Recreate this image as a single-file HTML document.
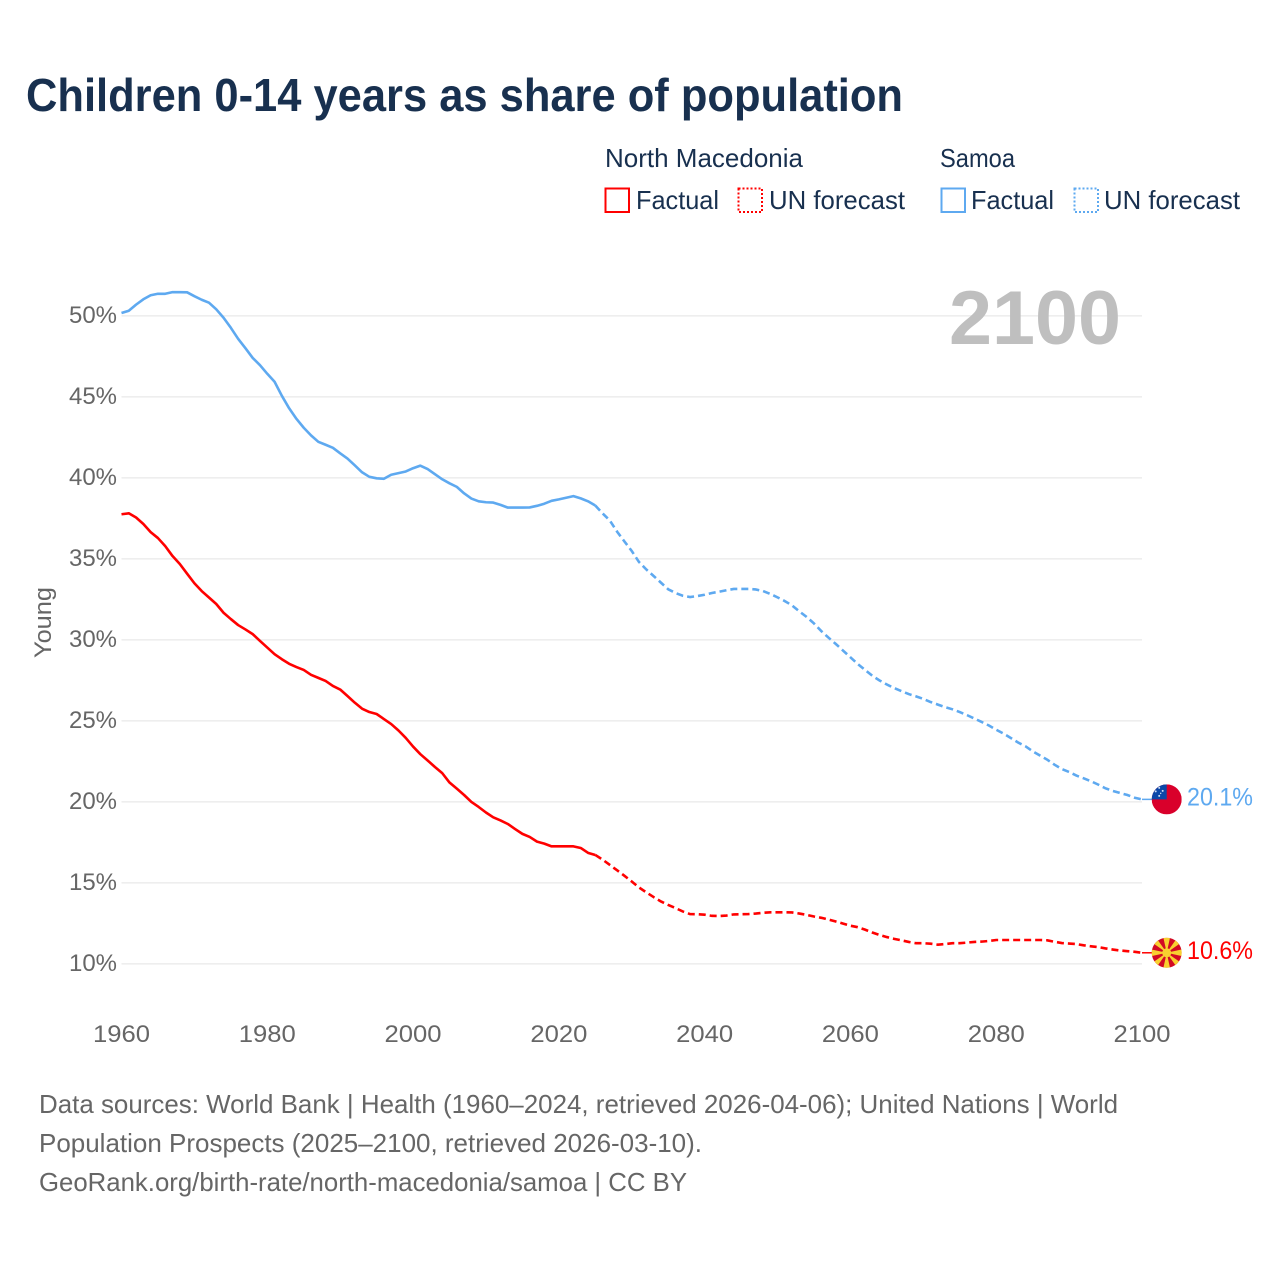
<!DOCTYPE html>
<html lang="en">
<head>
<meta charset="utf-8">
<title>Children 0-14 years as share of population</title>
<style>
  html, body { margin: 0; padding: 0; background: #fff; }
  svg { display: block; font-family: "Liberation Sans", sans-serif; }
</style>
</head>
<body>
<svg id="chart" xmlns="http://www.w3.org/2000/svg" width="1280" height="1280" viewBox="0 0 1280 1280">
  <defs>
    <clipPath id="flag-clip"><circle cx="0" cy="0" r="15"></circle></clipPath>
  </defs>
  <rect x="0" y="0" width="1280" height="1280" fill="#ffffff"></rect>

  <text x="26" y="111" font-size="46" font-weight="700" fill="#18304f" textLength="877" lengthAdjust="spacingAndGlyphs">Children 0-14 years as share of population</text>

  <g font-size="26" fill="#18304f">
    <text x="605" y="167" textLength="198" lengthAdjust="spacingAndGlyphs">North Macedonia</text>
    <text x="940" y="167" textLength="75" lengthAdjust="spacingAndGlyphs">Samoa</text>
    <rect x="605.5" y="188.5" width="23.5" height="23.5" fill="none" stroke="#ff0000" stroke-width="2"></rect>
    <text x="636" y="209" textLength="83" lengthAdjust="spacingAndGlyphs">Factual</text>
    <rect x="738.5" y="188.5" width="23.5" height="23.5" fill="none" stroke="#ff0000" stroke-width="2" stroke-dasharray="2 2"></rect>
    <text x="769" y="209" textLength="136" lengthAdjust="spacingAndGlyphs">UN forecast</text>
    <rect x="941.5" y="188.5" width="23.5" height="23.5" fill="none" stroke="#5ea9f0" stroke-width="2"></rect>
    <text x="971" y="209" textLength="83" lengthAdjust="spacingAndGlyphs">Factual</text>
    <rect x="1074.5" y="188.5" width="23.5" height="23.5" fill="none" stroke="#5ea9f0" stroke-width="2" stroke-dasharray="2 2"></rect>
    <text x="1104" y="209" textLength="136" lengthAdjust="spacingAndGlyphs">UN forecast</text>
  </g>

  <g id="grid"></g>
  <g id="y-axis" font-size="24" fill="#666666"></g>
  <g id="x-axis" font-size="24" fill="#666666"></g>

  <text transform="translate(51 658) rotate(-90)" font-size="24" fill="#666666" textLength="71" lengthAdjust="spacingAndGlyphs">Young</text>

  <text x="949" y="344" font-size="76" font-weight="700" fill="#bfbfbf" textLength="172" lengthAdjust="spacingAndGlyphs">2100</text>

  <g id="series"></g>

  <g id="flag-samoa">
    <g clip-path="url(#flag-clip)">
      <rect x="-15" y="-15" width="30" height="30" fill="#d9002b"></rect>
      <rect x="-15" y="-15" width="15" height="15" fill="#0b47a8"></rect>
      <circle cx="-7.5" cy="-11.5" r="1" fill="#cfe0f5"></circle>
      <circle cx="-11" cy="-8" r="1" fill="#cfe0f5"></circle>
      <circle cx="-4" cy="-8.5" r="1" fill="#cfe0f5"></circle>
      <circle cx="-6" cy="-6" r="0.7" fill="#cfe0f5"></circle>
      <circle cx="-7.5" cy="-3.5" r="1" fill="#cfe0f5"></circle>
    </g>
  </g>
  <g id="flag-macedonia">
    <g clip-path="url(#flag-clip)">
      <rect x="-15" y="-15" width="30" height="30" fill="#d20a24"></rect>
      <g fill="#f8d030">
        <path d="M0 0L-3.5 -16L3.5 -16Z"></path>
        <path d="M0 0L-3.5 16L3.5 16Z"></path>
        <path d="M0 0L-16 -3.5L-16 3.5Z"></path>
        <path d="M0 0L16 -3.5L16 3.5Z"></path>
        <path d="M0 0L14.1 -9.9L9.9 -14.1Z"></path>
        <path d="M0 0L-14.1 -9.9L-9.9 -14.1Z"></path>
        <path d="M0 0L14.1 9.9L9.9 14.1Z"></path>
        <path d="M0 0L-14.1 9.9L-9.9 14.1Z"></path>
      </g>
      <circle cx="0" cy="0" r="4.5" fill="#f8d030"></circle>
    </g>
  </g>

  <g id="end-labels" font-size="25"></g>

  <g font-size="26" fill="#666666">
    <text x="39" y="1113" textLength="1079" lengthAdjust="spacingAndGlyphs">Data sources: World Bank | Health (1960–2024, retrieved 2026-04-06); United Nations | World</text>
    <text x="39" y="1152" textLength="663" lengthAdjust="spacingAndGlyphs">Population Prospects (2025–2100, retrieved 2026-03-10).</text>
    <text x="39" y="1191" textLength="648" lengthAdjust="spacingAndGlyphs">GeoRank.org/birth-rate/north-macedonia/samoa | CC BY</text>
  </g>
</svg>

<script>
const startYear = 1960;
const forecastStartYear = 2025;
const xTickYears = [1960, 1980, 2000, 2020, 2040, 2060, 2080, 2100];
const yTickValues = [50, 45, 40, 35, 30, 25, 20, 15, 10];
const samoaEndLabel = "20.1%";
const macedoniaEndLabel = "10.6%";

// Samoa, 1960-2025
const samoaFactual = [50.17,50.31,50.69,51.02,51.27,51.36,51.36,51.46,51.46,51.45,
  51.21,50.99,50.81,50.4,49.88,49.26,48.58,48.0,47.4,46.95,
  46.42,45.93,45.06,44.29,43.64,43.09,42.62,42.22,42.04,41.85,
  41.51,41.19,40.77,40.34,40.06,39.97,39.94,40.19,40.29,40.39,
  40.59,40.75,40.54,40.22,39.91,39.66,39.44,39.04,38.72,38.55,
  38.49,38.47,38.33,38.16,38.16,38.16,38.17,38.27,38.4,38.58,
  38.67,38.77,38.87,38.73,38.55,38.29];
// Samoa, 2025-2100
const samoaForecast = [38.29,37.8,37.36,36.67,36.07,35.48,34.8,34.34,33.94,33.53,
  33.12,32.89,32.72,32.64,32.7,32.78,32.89,32.97,33.06,33.14,
  33.14,33.14,33.11,33.01,32.83,32.62,32.39,32.12,31.75,31.41,
  31.01,30.54,30.13,29.74,29.33,28.92,28.51,28.14,27.78,27.49,
  27.24,27.02,26.83,26.65,26.51,26.35,26.16,26.0,25.84,25.71,
  25.54,25.35,25.14,24.93,24.71,24.45,24.21,23.94,23.66,23.43,
  23.12,22.86,22.6,22.29,22.02,21.84,21.62,21.45,21.27,21.06,
  20.83,20.67,20.54,20.42,20.25,20.15];
// North Macedonia, 1960-2025
const macedoniaFactual = [37.75,37.81,37.55,37.15,36.65,36.28,35.78,35.17,34.68,34.08,
  33.49,33.01,32.61,32.21,31.67,31.28,30.91,30.64,30.35,29.93,
  29.52,29.11,28.8,28.52,28.32,28.14,27.84,27.65,27.46,27.15,
  26.93,26.53,26.12,25.75,25.54,25.42,25.11,24.8,24.4,23.94,
  23.41,22.94,22.55,22.15,21.77,21.19,20.81,20.42,19.99,19.68,
  19.34,19.04,18.85,18.63,18.32,18.02,17.83,17.54,17.42,17.25,
  17.25,17.25,17.25,17.15,16.85,16.72];
// North Macedonia, 2025-2100
const macedoniaForecast = [16.72,16.43,16.1,15.77,15.43,15.08,14.71,14.41,14.12,13.85,
  13.63,13.44,13.23,13.07,13.06,13.03,12.96,12.95,12.98,13.05,
  13.06,13.07,13.1,13.15,13.18,13.18,13.18,13.17,13.1,13.02,
  12.92,12.84,12.73,12.61,12.48,12.35,12.26,12.11,11.93,11.78,
  11.65,11.54,11.45,11.35,11.27,11.27,11.24,11.18,11.22,11.27,
  11.27,11.31,11.35,11.37,11.41,11.47,11.47,11.47,11.47,11.47,
  11.47,11.47,11.45,11.36,11.28,11.25,11.22,11.14,11.08,11.03,
  10.95,10.88,10.82,10.78,10.74,10.68];

const SVG_NS = "http://www.w3.org/2000/svg";
const RED = "#ff0000";
const BLUE = "#5ea9f0";
const LINE_WIDTH = "2.6";
const xScale = function (year) { return 121.5 + (year - 1960) * (1142 - 121.5) / 140; };
const yScale = function (value) { return 315.8 + (50 - value) * 16.2; };

function polyPoints(values, firstYear) {
  return values.map(function (v, i) {
    return xScale(firstYear + i).toFixed(2) + "," + yScale(v).toFixed(2);
  }).join(" ");
}

const grid = document.getElementById("grid");
const yAxis = document.getElementById("y-axis");
yTickValues.forEach(function (v) {
  const line = document.createElementNS(SVG_NS, "line");
  
  
  line.setAttribute("x1", xScale(1960));
  line.setAttribute("x2", xScale(2100));
  line.setAttribute("y1", yScale(v));
  line.setAttribute("y2", yScale(v));
  line.setAttribute("stroke", "#eeeeee");
  line.setAttribute("stroke-width", "1.6");
  grid.appendChild(line);

  const label = document.createElementNS(SVG_NS, "text");
  
  
  label.setAttribute("x", 69);
  label.setAttribute("y", yScale(v) + 7);
  label.setAttribute("textLength", 48);
  label.setAttribute("lengthAdjust", "spacingAndGlyphs");
  label.textContent = v + "%";
  yAxis.appendChild(label);
});

const xAxis = document.getElementById("x-axis");
xTickYears.forEach(function (year) {
  const label = document.createElementNS(SVG_NS, "text");
  
  
  label.setAttribute("x", xScale(year) - 28.5);
  label.setAttribute("y", 1042);
  label.setAttribute("textLength", 57);
  label.setAttribute("lengthAdjust", "spacingAndGlyphs");
  label.textContent = String(year);
  xAxis.appendChild(label);
});

const seriesGroup = document.getElementById("series");

const samoaFactualLine = document.createElementNS(SVG_NS, "polyline");


samoaFactualLine.setAttribute("points", polyPoints(samoaFactual, startYear));
samoaFactualLine.setAttribute("fill", "none");
samoaFactualLine.setAttribute("stroke", BLUE);
samoaFactualLine.setAttribute("stroke-width", LINE_WIDTH);
samoaFactualLine.setAttribute("stroke-linejoin", "round");
seriesGroup.appendChild(samoaFactualLine);

const samoaForecastLine = document.createElementNS(SVG_NS, "polyline");


samoaForecastLine.setAttribute("points", polyPoints(samoaForecast, forecastStartYear));
samoaForecastLine.setAttribute("fill", "none");
samoaForecastLine.setAttribute("stroke", BLUE);
samoaForecastLine.setAttribute("stroke-width", LINE_WIDTH);
samoaForecastLine.setAttribute("stroke-dasharray", "7 4");
seriesGroup.appendChild(samoaForecastLine);

const macedoniaFactualLine = document.createElementNS(SVG_NS, "polyline");


macedoniaFactualLine.setAttribute("points", polyPoints(macedoniaFactual, startYear));
macedoniaFactualLine.setAttribute("fill", "none");
macedoniaFactualLine.setAttribute("stroke", RED);
macedoniaFactualLine.setAttribute("stroke-width", LINE_WIDTH);
macedoniaFactualLine.setAttribute("stroke-linejoin", "round");
seriesGroup.appendChild(macedoniaFactualLine);

const macedoniaForecastLine = document.createElementNS(SVG_NS, "polyline");


macedoniaForecastLine.setAttribute("points", polyPoints(macedoniaForecast, forecastStartYear));
macedoniaForecastLine.setAttribute("fill", "none");
macedoniaForecastLine.setAttribute("stroke", RED);
macedoniaForecastLine.setAttribute("stroke-width", LINE_WIDTH);
macedoniaForecastLine.setAttribute("stroke-dasharray", "7 4");
seriesGroup.appendChild(macedoniaForecastLine);

const lastSamoa = samoaForecast[samoaForecast.length - 1];
const lastMacedonia = macedoniaForecast[macedoniaForecast.length - 1];

const samoaConnector = document.createElementNS(SVG_NS, "line");


samoaConnector.setAttribute("x1", xScale(2100));
samoaConnector.setAttribute("x2", xScale(2100) + 10);
samoaConnector.setAttribute("y1", yScale(lastSamoa));
samoaConnector.setAttribute("y2", yScale(lastSamoa));
samoaConnector.setAttribute("stroke", BLUE);
samoaConnector.setAttribute("stroke-width", "1.5");
seriesGroup.appendChild(samoaConnector);

const macedoniaConnector = document.createElementNS(SVG_NS, "line");


macedoniaConnector.setAttribute("x1", xScale(2100));
macedoniaConnector.setAttribute("x2", xScale(2100) + 10);
macedoniaConnector.setAttribute("y1", yScale(lastMacedonia));
macedoniaConnector.setAttribute("y2", yScale(lastMacedonia));
macedoniaConnector.setAttribute("stroke", RED);
macedoniaConnector.setAttribute("stroke-width", "1.5");
seriesGroup.appendChild(macedoniaConnector);

document.getElementById("flag-samoa").setAttribute("transform", "translate(" + (xScale(2100) + 24.7) + " " + yScale(lastSamoa) + ")");
document.getElementById("flag-macedonia").setAttribute("transform", "translate(" + (xScale(2100) + 24.7) + " " + yScale(lastMacedonia) + ")");

const endLabels = document.getElementById("end-labels");

const samoaLabel = document.createElementNS(SVG_NS, "text");


samoaLabel.setAttribute("x", 1187);
samoaLabel.setAttribute("y", yScale(lastSamoa) + 6);
samoaLabel.setAttribute("fill", BLUE);
samoaLabel.setAttribute("textLength", 66);
samoaLabel.setAttribute("lengthAdjust", "spacingAndGlyphs");
samoaLabel.textContent = samoaEndLabel;
endLabels.appendChild(samoaLabel);

const macedoniaLabel = document.createElementNS(SVG_NS, "text");


macedoniaLabel.setAttribute("x", 1187);
macedoniaLabel.setAttribute("y", yScale(lastMacedonia) + 6);
macedoniaLabel.setAttribute("fill", RED);
macedoniaLabel.setAttribute("textLength", 66);
macedoniaLabel.setAttribute("lengthAdjust", "spacingAndGlyphs");
macedoniaLabel.textContent = macedoniaEndLabel;
endLabels.appendChild(macedoniaLabel);
</script>
</body>
</html>
